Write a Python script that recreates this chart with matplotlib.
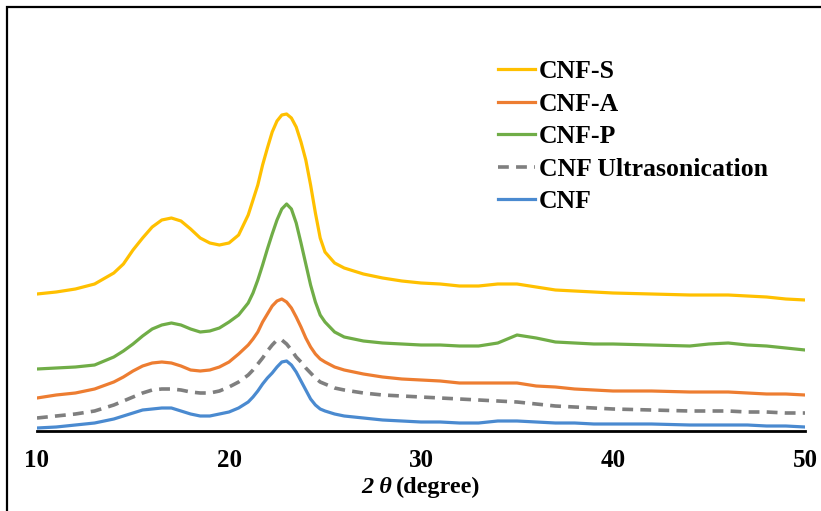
import matplotlib
matplotlib.use("Agg")
import matplotlib.pyplot as plt
from matplotlib.patches import Rectangle

# ---------------- data ----------------
two_theta = [10, 11, 12, 13, 14, 14.5, 15, 15.5, 16, 16.5, 17, 17.5, 18, 18.5, 19, 19.5,
             20, 20.5, 21, 21.25, 21.5, 21.75, 22, 22.25, 22.5, 22.75, 23, 23.25, 23.5,
             23.75, 24, 24.25, 24.5, 24.75, 25, 25.5, 26, 27, 28, 29,
             30, 31, 32, 33, 34, 35, 36, 37, 38, 39, 40, 42, 44, 45, 46, 47, 48, 49, 50]

# intensities (arbitrary units, stacked offsets as in the reference)
cnf_s = [137, 139, 142, 147, 158, 167, 181, 193, 204, 211, 213, 210, 202, 193, 188, 186,
         188, 196, 216, 231, 246, 266, 283, 299, 310, 316, 317, 313, 304,
         289, 271, 246, 218, 193, 179, 168, 163, 157, 153, 150,
         148, 147, 145, 145, 147, 147, 144, 141, 140, 139, 138, 137, 136, 136, 136, 135, 134, 132, 131]
cnf_p = [62, 63, 64, 66, 74, 80, 87, 95, 102, 106, 108, 106, 102, 99, 100, 103,
         109, 116, 128, 138, 151, 166, 182, 197, 211, 222, 227, 222, 208,
         188, 167, 146, 129, 116, 109, 99, 94, 90, 88, 87,
         86, 86, 85, 85, 88, 96, 93, 89, 88, 87, 87, 86, 85, 87, 88, 86, 85, 83, 81]
cnf_a = [33, 36, 38, 42, 49, 54, 60, 65, 68, 69, 68, 65, 61, 60, 61, 64,
         69, 77, 86, 92, 99, 109, 117, 125, 130, 132, 129, 123, 114,
         104, 93, 84, 77, 72, 69, 64, 61, 57, 54, 52,
         51, 50, 48, 48, 48, 48, 45, 44, 42, 41, 40, 40, 39, 39, 39, 38, 37, 37, 36]
cnf_us = [13, 15, 17, 20, 26, 30, 34, 38, 41, 42, 42, 41, 39, 38, 38, 40,
          44, 49, 56, 61, 67, 73, 80, 86, 91, 91, 87, 81, 74,
          69, 63, 58, 53, 49, 47, 43, 41, 38, 36, 35,
          34, 33, 32, 31, 30, 29, 27, 25, 24, 23, 22, 21, 20, 20, 20, 19, 19, 18, 18]
cnf = [3, 4, 6, 8, 12, 15, 18, 21, 22, 23, 23, 20, 17, 15, 15, 17,
       19, 23, 29, 34, 40, 47, 53, 58, 64, 69, 70, 66, 59,
       50, 41, 32, 26, 22, 20, 17, 15, 13, 11, 10,
       9, 9, 8, 8, 10, 10, 9, 8, 8, 7, 7, 7, 6, 6, 6, 6, 5, 5, 4]

series_labels = ["CNF-S", "CNF-A", "CNF-P", "CNF Ultrasonication", "CNF"]
x_ticks = [10, 20, 30, 40, 50]

# ---------------- figure ----------------
W, H = 821, 511
fig = plt.figure(figsize=(W / 100, H / 100), dpi=100)
serif = "Liberation Serif"

ax = fig.add_axes([37 / W, (H - 431) / H, (805 - 37) / W, (431 - 15) / H])

lw = 2.3
l1, = ax.plot(two_theta, cnf_s, color="#FFC000", lw=lw)
l2, = ax.plot(two_theta, cnf_a, color="#ED7D31", lw=lw)
l3, = ax.plot(two_theta, cnf_p, color="#70AD47", lw=lw)
l4, = ax.plot(two_theta, cnf_us, color="#7F7F7F", lw=2.6, ls=(0, (3.0, 2.0)))
l5, = ax.plot(two_theta, cnf, color="#4A8AD0", lw=lw)

ax.set_xlim(10, 50)
ax.set_ylim(0, 416)
ax.set_yticks([])
ax.set_xticks(x_ticks)
ax.set_xticklabels([str(t) for t in x_ticks], fontfamily=serif, fontweight="bold", fontsize=18)
ax.tick_params(axis="x", length=0, pad=13)
for s in ["top", "right", "left"]:
    ax.spines[s].set_visible(False)
ax.spines["bottom"].set_linewidth(2.0)
ax.spines["bottom"].set_color("black")

leg = ax.legend([l1, l2, l3, l4, l5], series_labels,
                loc="upper left", bbox_to_anchor=(498 / W, 1 - 60 / H),
                bbox_transform=fig.transFigure, frameon=False,
                prop={"family": serif, "weight": "bold", "size": 18.5},
                handlelength=1.45, handletextpad=0.15, labelspacing=0.37,
                borderpad=0, borderaxespad=0)

# x-axis label: italic "2 θ" + bold "(degree)"
ylab = 1 - 487 / H
fig.text(392 / W, ylab, "2 θ", ha="right", va="center", fontfamily=serif,
         fontweight="bold", fontstyle="italic", fontsize=17.5)
fig.text(396 / W, ylab, "(degree)", ha="left", va="center", fontfamily=serif,
         fontweight="bold", fontsize=17.5)

# outer border
fig.patches.append(Rectangle((7 / W, -0.05), 1.1, 1 - 7 / H + 0.05, transform=fig.transFigure,
                             fill=False, edgecolor="black", lw=1.6, clip_on=False))

fig.savefig("out.png", dpi=100)
